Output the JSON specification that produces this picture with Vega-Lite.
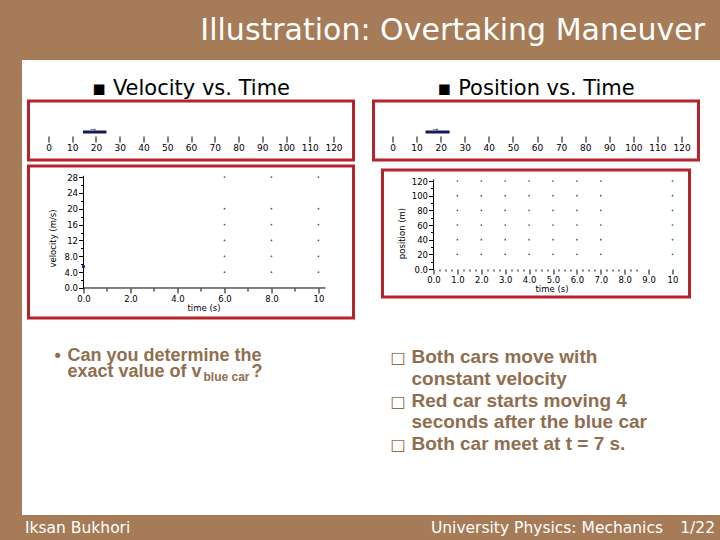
{
  "$schema": "https://vega.github.io/schema/vega-lite/v6.json",
  "background": "white",
  "padding": 0,
  "config": {
    "view": {"stroke": null},
    "axis": {"labelFont": "DejaVu Sans", "labelFontSize": 8.5, "labelColor": "#000", "tickColor": "#000", "titleFont": "DejaVu Sans", "titleFontSize": 8.5, "titleFontWeight": "normal", "titleColor": "#000", "grid": false, "domain": false, "labelPadding": 1, "labelOverlap": false, "labelFlush": false}
  },
  "spacing": 0,
  "vconcat": [
    {
      "width": 720, "height": 60,
      "view": {"fill": "#A67B57", "stroke": null},
      "data": {"values": [{"t": "Illustration: Overtaking Maneuver"}]},
      "mark": {"type": "text", "align": "right", "baseline": "middle", "font": "DejaVu Sans", "fontSize": 30, "color": "white", "dx": -15, "dy": 1},
      "encoding": {"text": {"field": "t"}, "x": {"value": "width"}}
    },
    {
      "spacing": 4.5,
      "hconcat": [
        {
          "width": 22, "height": 455,
          "view": {"fill": "#A67B57", "stroke": null},
          "data": {"values": [{"t": ""}]},
          "mark": {"type": "text"},
          "encoding": {"text": {"field": "t"}}
        },
        {
          "spacing": 16,
          "hconcat": [
            {
              "spacing": 6,
              "bounds": "flush",
              "vconcat": [
                {
                  "width": 325, "height": 35,
                  "data": {"values": [{"t": "▪ Velocity vs. Time"}]},
                  "mark": {"type": "text", "align": "center", "baseline": "alphabetic", "font": "DejaVu Sans", "fontSize": 21, "color": "#000"},
                  "encoding": {"text": {"field": "t"}, "y": {"value": "height"}}
                },
                {
                  "width": 325, "height": 59,
                  "view": {"stroke": "#B3242B", "strokeWidth": 3, "fill": "white"},
                  "data": {"values": [{"rear": 14.5, "front": 24.4}]},
                  "layer": [
                    {
                      "mark": {"type": "rule", "color": "#17175a", "strokeWidth": 3},
                      "encoding": {
                        "x": {"field": "rear", "type": "quantitative", "scale": {"domain": [-8.42, 128.42], "nice": false, "zero": false},
                              "axis": {"orient": "bottom", "offset": -24, "tickCount": 200, "format": "d", "values": [0, 10, 20, 30, 40, 50, 60, 70, 80, 90, 100, 110, 120], "title": null, "tickSize": 6, "labelFontSize": 9, "labelOverlap": false}},
                        "x2": {"field": "front"},
                        "y": {"value": 31}
                      }
                    },
                    {
                      "mark": {"type": "text", "text": "→", "fontSize": 9, "fontWeight": "bold", "color": "#17175a", "dx": 10},
                      "encoding": {"x": {"field": "rear", "type": "quantitative"}, "y": {"value": 27}}
                    }
                  ]
                },
                {
                  "width": 325, "height": 152,
                  "view": {"stroke": "#B3242B", "strokeWidth": 3, "fill": "white"},
                  "layer": [
                    {
                      "data": {"values": [
                        {"t": 6, "v": 4}, {"t": 6, "v": 8}, {"t": 6, "v": 12}, {"t": 6, "v": 16}, {"t": 6, "v": 20}, {"t": 6, "v": 28},
                        {"t": 8, "v": 4}, {"t": 8, "v": 8}, {"t": 8, "v": 12}, {"t": 8, "v": 16}, {"t": 8, "v": 20}, {"t": 8, "v": 28},
                        {"t": 10, "v": 4}, {"t": 10, "v": 8}, {"t": 10, "v": 12}, {"t": 10, "v": 16}, {"t": 10, "v": 20}, {"t": 10, "v": 28}
                      ]},
                      "mark": {"type": "point", "filled": true, "size": 3, "color": "#555", "opacity": 1},
                      "encoding": {
                        "x": {"field": "t", "type": "quantitative", "scale": {"domain": [-2.34, 11.49], "nice": false, "zero": false},
                              "axis": {"orient": "bottom", "offset": -30, "tickCount": 200, "values": [0, 1, 2, 3, 4, 5, 6, 7, 8, 9, 10], "labelOverlap": false,
                                       "labelExpr": "datum.value === 0 ? '0.0' : (datum.value % 2 === 0 ? format(datum.value, '.2r') : '')",
                                       "tickSize": {"condition": {"test": "datum.value % 2 === 0", "value": 5}, "value": 3},
                                       "title": "time (s)", "titleX": 175, "titlePadding": 1}},
                        "y": {"field": "v", "type": "quantitative", "scale": {"domain": [-7.57, 30.78], "nice": false, "zero": false},
                              "axis": {"orient": "left", "offset": -55, "tickCount": 200, "values": [0, 2, 4, 6, 8, 10, 12, 14, 16, 18, 20, 22, 24, 26, 28], "labelOverlap": false,
                                       "labelExpr": "datum.value === 0 ? '0.0' : (datum.value % 4 === 0 ? format(datum.value, '.2r') : '')",
                                       "tickSize": {"condition": {"test": "datum.value % 4 === 0", "value": 5}, "value": 3},
                                       "title": "velocity (m/s)", "titleY": 72, "titlePadding": 6}}
                      }
                    },
                    {
                      "data": {"values": [{}]},
                      "mark": {"type": "rule", "color": "#000", "strokeWidth": 1},
                      "encoding": {"x": {"datum": 0}, "x2": {"datum": 10.3}, "y": {"datum": 0}}
                    },
                    {
                      "data": {"values": [{}]},
                      "mark": {"type": "rule", "color": "#000", "strokeWidth": 1},
                      "encoding": {"x": {"datum": 0}, "y": {"datum": 0}, "y2": {"datum": 28.3}}
                    },
                    {
                      "data": {"values": [{"t": 0, "v": 5.4}]},
                      "mark": {"type": "square", "size": 8, "color": "#1a1a8c", "opacity": 1},
                      "encoding": {"x": {"field": "t", "type": "quantitative"}, "y": {"field": "v", "type": "quantitative"}}
                    }
                  ]
                },
                {
                  "width": 325, "height": 191,
                  "data": {"values": [
                    {"line": 1, "b": "•", "txt": "Can you determine the", "sub": "", "q": ""},
                    {"line": 2, "b": "", "txt": "exact value of v", "sub": "blue car", "q": "?"}
                  ]},
                  "encoding": {"y": {"field": "line", "type": "quantitative", "scale": {"domain": [1, 2], "range": [37, 52.7]}, "axis": null}},
                  "layer": [
                    {"mark": {"type": "text", "align": "left", "baseline": "alphabetic", "font": "Liberation Sans", "fontWeight": "bold", "fontSize": 18, "color": "#8F6E4F"},
                     "encoding": {"text": {"field": "b"}, "x": {"value": 26}}},
                    {"mark": {"type": "text", "align": "left", "baseline": "alphabetic", "font": "Liberation Sans", "fontWeight": "bold", "fontSize": 18, "color": "#8F6E4F"},
                     "encoding": {"text": {"field": "txt"}, "x": {"value": 39}}},
                    {"mark": {"type": "text", "align": "left", "baseline": "alphabetic", "font": "Liberation Sans", "fontWeight": "bold", "fontSize": 12, "color": "#8F6E4F", "dy": 4},
                     "encoding": {"text": {"field": "sub"}, "x": {"value": 175}}},
                    {"mark": {"type": "text", "align": "left", "baseline": "alphabetic", "font": "Liberation Sans", "fontWeight": "bold", "fontSize": 18, "color": "#8F6E4F"},
                     "encoding": {"text": {"field": "q"}, "x": {"value": 223}}}
                  ]
                }
              ]
            },
            {
              "spacing": 10,
              "bounds": "flush",
              "center": true,
              "vconcat": [
                {
                  "width": 325, "height": 31,
                  "data": {"values": [{"t": "▪ Position vs. Time"}]},
                  "mark": {"type": "text", "align": "center", "baseline": "alphabetic", "font": "DejaVu Sans", "fontSize": 21, "color": "#000", "dy": 4},
                  "encoding": {"text": {"field": "t"}, "y": {"value": "height"}}
                },
                {
                  "width": 325, "height": 59,
                  "view": {"stroke": "#B3242B", "strokeWidth": 3, "fill": "white"},
                  "data": {"values": [{"rear": 13.7, "front": 23.7}]},
                  "layer": [
                    {
                      "mark": {"type": "rule", "color": "#17175a", "strokeWidth": 3},
                      "encoding": {
                        "x": {"field": "rear", "type": "quantitative", "scale": {"domain": [-7.89, 127.05], "nice": false, "zero": false},
                              "axis": {"orient": "bottom", "offset": -24, "tickCount": 200, "format": "d", "values": [0, 10, 20, 30, 40, 50, 60, 70, 80, 90, 100, 110, 120], "title": null, "tickSize": 6, "labelFontSize": 9, "labelOverlap": false}},
                        "x2": {"field": "front"},
                        "y": {"value": 31}
                      }
                    },
                    {
                      "mark": {"type": "text", "text": "→", "fontSize": 9, "fontWeight": "bold", "color": "#17175a", "dx": 10},
                      "encoding": {"x": {"field": "rear", "type": "quantitative"}, "y": {"value": 27}}
                    }
                  ]
                },
                {
                  "width": 307, "height": 127,
                  "view": {"stroke": "#B3242B", "strokeWidth": 3, "fill": "white"},
                  "layer": [
                    {
                      "data": {"values": [
                        {"t": 1, "p": 20}, {"t": 1, "p": 40}, {"t": 1, "p": 60}, {"t": 1, "p": 80}, {"t": 1, "p": 100}, {"t": 1, "p": 120},
                        {"t": 2, "p": 20}, {"t": 2, "p": 40}, {"t": 2, "p": 60}, {"t": 2, "p": 80}, {"t": 2, "p": 100}, {"t": 2, "p": 120},
                        {"t": 3, "p": 20}, {"t": 3, "p": 40}, {"t": 3, "p": 60}, {"t": 3, "p": 80}, {"t": 3, "p": 100}, {"t": 3, "p": 120},
                        {"t": 4, "p": 20}, {"t": 4, "p": 40}, {"t": 4, "p": 60}, {"t": 4, "p": 80}, {"t": 4, "p": 100}, {"t": 4, "p": 120},
                        {"t": 5, "p": 20}, {"t": 5, "p": 40}, {"t": 5, "p": 60}, {"t": 5, "p": 80}, {"t": 5, "p": 100}, {"t": 5, "p": 120},
                        {"t": 6, "p": 20}, {"t": 6, "p": 40}, {"t": 6, "p": 60}, {"t": 6, "p": 80}, {"t": 6, "p": 100}, {"t": 6, "p": 120},
                        {"t": 7, "p": 20}, {"t": 7, "p": 40}, {"t": 7, "p": 60}, {"t": 7, "p": 80}, {"t": 7, "p": 100}, {"t": 7, "p": 120},
                        {"t": 10, "p": 20}, {"t": 10, "p": 40}, {"t": 10, "p": 60}, {"t": 10, "p": 80}, {"t": 10, "p": 100}, {"t": 10, "p": 120}
                      ]},
                      "mark": {"type": "point", "filled": true, "size": 3, "color": "#555", "opacity": 1},
                      "encoding": {
                        "x": {"field": "t", "type": "quantitative", "scale": {"domain": [-2.134, 10.711], "nice": false, "zero": false},
                              "axis": {"orient": "bottom", "offset": -28, "tickCount": 200, "labelOverlap": false, "values": [0, 0.25, 0.5, 0.75, 1, 1.25, 1.5, 1.75, 2, 2.25, 2.5, 2.75, 3, 3.25, 3.5, 3.75, 4, 4.25, 4.5, 4.75, 5, 5.25, 5.5, 5.75, 6, 6.25, 6.5, 6.75, 7, 7.25, 7.5, 7.75, 8, 8.25, 8.5, 9, 10],
                                       "labelExpr": "datum.value === 0 ? '0.0' : (datum.value % 1 === 0 ? format(datum.value, '.2r') : '')",
                                       "tickSize": {"condition": {"test": "datum.value % 1 === 0", "value": 5}, "value": 2},
                                       "title": "time (s)", "titleX": 169, "titlePadding": 1}},
                        "y": {"field": "p", "type": "quantitative", "scale": {"domain": [-38.18, 135.0], "nice": false, "zero": false},
                              "axis": {"orient": "left", "offset": -51, "tickCount": 200, "labelOverlap": false, "values": [0, 10, 20, 30, 40, 50, 60, 70, 80, 90, 100, 110, 120],
                                       "labelExpr": "datum.value === 0 ? '0.0' : (datum.value % 20 === 0 ? format(datum.value, '.2r') : '')",
                                       "tickSize": {"condition": {"test": "datum.value % 20 === 0", "value": 5}, "value": 3},
                                       "title": "position (m)", "titleY": 63, "titlePadding": 5}}
                      }
                    },
                    {
                      "data": {"values": [{}]},
                      "mark": {"type": "rule", "color": "#000", "strokeWidth": 1},
                      "encoding": {"x": {"datum": 0}, "y": {"datum": 0}, "y2": {"datum": 122}}
                    }
                  ]
                },
                {
                  "width": 325, "height": 208,
                  "data": {"values": [
                    {"line": 1, "b": "□", "txt": "Both cars move with"},
                    {"line": 2, "b": "", "txt": "constant velocity"},
                    {"line": 3, "b": "□", "txt": "Red car starts moving 4"},
                    {"line": 4, "b": "", "txt": "seconds after the blue car"},
                    {"line": 5, "b": "□", "txt": "Both car meet at t = 7 s."}
                  ]},
                  "encoding": {"y": {"field": "line", "type": "quantitative", "scale": {"domain": [1, 5], "range": [56.3, 143]}, "axis": null}},
                  "layer": [
                    {"mark": {"type": "text", "align": "left", "baseline": "alphabetic", "font": "DejaVu Sans", "fontSize": 16, "color": "#8F6E4F"},
                     "encoding": {"text": {"field": "b"}, "x": {"value": 17}}},
                    {"mark": {"type": "text", "align": "left", "baseline": "alphabetic", "font": "Liberation Sans", "fontWeight": "bold", "fontSize": 19, "color": "#8F6E4F"},
                     "encoding": {"text": {"field": "txt"}, "x": {"value": 38}}}
                  ]
                }
              ]
            }
          ]
        }
      ]
    },
    {
      "width": 720, "height": 25,
      "view": {"fill": "#A67B57", "stroke": null},
      "data": {"values": [{"left": "Iksan Bukhori", "course": "University Physics: Mechanics", "page": "1/22"}]},
      "layer": [
        {"mark": {"type": "text", "align": "left", "baseline": "middle", "font": "DejaVu Sans", "fontSize": 15.5, "color": "white", "dx": 25},
         "encoding": {"text": {"field": "left"}, "x": {"value": 0}}},
        {"mark": {"type": "text", "align": "right", "baseline": "middle", "font": "DejaVu Sans", "fontSize": 15.5, "color": "white", "dx": -57},
         "encoding": {"text": {"field": "course"}, "x": {"value": "width"}}},
        {"mark": {"type": "text", "align": "right", "baseline": "middle", "font": "DejaVu Sans", "fontSize": 15.5, "color": "white", "dx": -5},
         "encoding": {"text": {"field": "page"}, "x": {"value": "width"}}}
      ]
    }
  ]
}
